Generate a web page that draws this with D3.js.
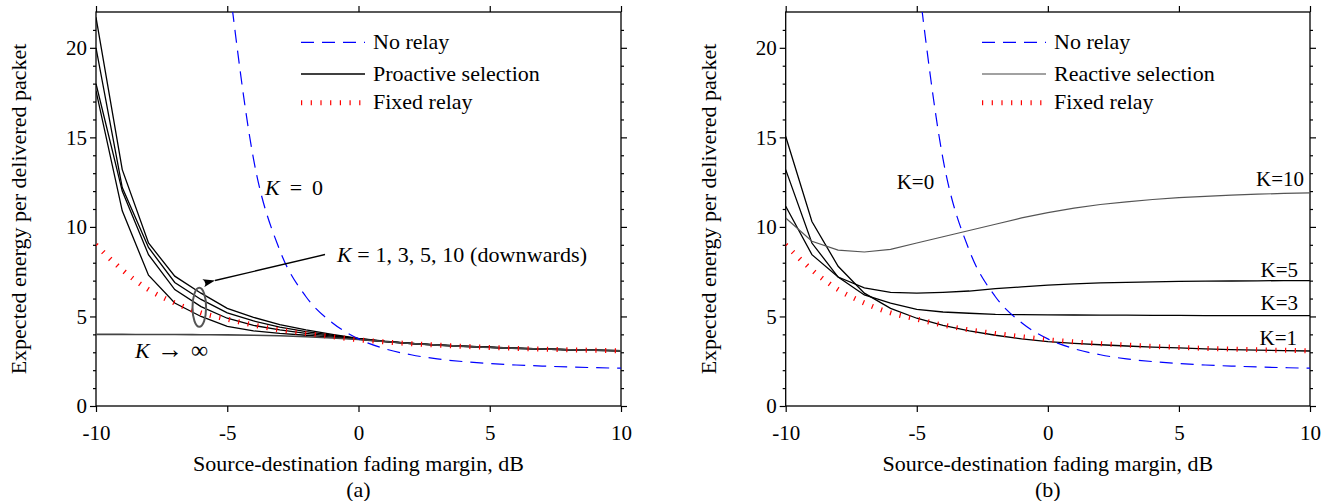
<!DOCTYPE html>
<html><head><meta charset="utf-8">
<script src="https://cdn.jsdelivr.net/npm/d3@7"></script>
<style>body{margin:0;background:#fff}svg{display:block}</style>
</head><body>
<svg id="chart" width="1332" height="501"></svg>
<script>
// ---------- data ----------
const fadeMargin = [-10,-9,-8,-7,-6,-5,-4,-3,-2,-1,0,1,2,3,4,5,6,7,8,9,10];
const noRelayMargin = [-5,-4,-3,-2,-1,0,1,2,3,4,5,6,7,8,9,10];
const noRelay = [24.5,13.8,8.7,6.1,4.65,3.75,3.2,2.86,2.63,2.48,2.37,2.29,2.23,2.18,2.14,2.11];
const fixedRelay = [9.0,7.6,6.5,5.75,5.2,4.85,4.52,4.25,4.05,3.87,3.7,3.58,3.48,3.4,3.33,3.27,3.22,3.18,3.14,3.11,3.08];
// (a) proactive selection
const proactiveK1  = [21.7,13.2,9.1,7.25,6.3,5.45,4.95,4.55,4.25,4.0,3.78,3.62,3.5,3.41,3.34,3.28,3.23,3.19,3.15,3.12,3.09];
const proactiveK3  = [20.0,12.2,8.85,6.9,5.95,5.2,4.75,4.4,4.15,3.95,3.76,3.61,3.5,3.41,3.34,3.28,3.23,3.19,3.15,3.12,3.09];
const proactiveK5  = [18.0,12.0,8.45,6.5,5.55,4.9,4.5,4.25,4.05,3.9,3.74,3.6,3.49,3.4,3.33,3.27,3.22,3.18,3.14,3.11,3.08];
const proactiveK10 = [17.6,10.9,7.3,5.75,5.0,4.45,4.2,4.05,3.95,3.85,3.72,3.6,3.49,3.4,3.33,3.27,3.22,3.18,3.14,3.11,3.08];
const proactiveKinf = [4.0,4.0,3.99,3.99,3.98,3.97,3.95,3.92,3.87,3.8,3.71,3.6,3.49,3.4,3.33,3.27,3.22,3.18,3.14,3.11,3.08];
// (b) reactive selection
const reactiveK1  = [15.05,10.3,7.8,6.3,5.45,4.9,4.5,4.2,3.95,3.75,3.6,3.5,3.42,3.35,3.29,3.24,3.19,3.15,3.12,3.09,3.07];
const reactiveK3  = [13.2,9.1,7.2,6.2,5.75,5.4,5.25,5.18,5.12,5.1,5.09,5.08,5.07,5.07,5.06,5.06,5.05,5.05,5.05,5.05,5.05];
const reactiveK5  = [11.15,8.45,7.2,6.6,6.35,6.3,6.35,6.42,6.55,6.65,6.75,6.82,6.87,6.9,6.93,6.96,6.97,6.98,6.99,7.0,7.0];
const reactiveK10 = [10.5,9.2,8.7,8.6,8.75,9.1,9.45,9.8,10.15,10.5,10.8,11.05,11.25,11.4,11.53,11.63,11.71,11.78,11.83,11.87,11.9];
// ticks / labels
const xTicks = [-10,-5,0,5,10];
const yMajorTicks = [0,5,10,15,20];
const yMinorTicks = [1,2,3,4,6,7,8,9,11,12,13,14,16,17,18,19,21];
const yLabel = "Expected energy per delivered packet";
const xLabel = "Source-destination fading margin, dB";

// ---------- drawing ----------
const FONT = "'Liberation Serif','Times New Roman',serif";
const svg = d3.select("#chart");
svg.append("rect").attr("width",1332).attr("height",501).attr("fill","#fff");
const defs = svg.append("defs");
defs.append("marker").attr("id","arrowhead").attr("viewBox","0 0 12 8")
  .attr("refX",0).attr("refY",4).attr("markerWidth",12).attr("markerHeight",8)
  .attr("markerUnits","userSpaceOnUse").attr("orient","auto-start-reverse")
  .append("path").attr("d","M0,4 L12,0 Q8,4 12,8 Z").attr("fill","#000");

const TOP = 12, BOTTOM = 406;

function panel(id, x0, x1, tag) {
  const x = d3.scaleLinear().domain([-10,10]).range([x0,x1]);
  const y = d3.scaleLinear().domain([0,22]).range([BOTTOM,TOP]);
  const g = svg.append("g");
  defs.append("clipPath").attr("id","clip"+id).append("rect")
    .attr("x",x0).attr("y",TOP).attr("width",x1-x0).attr("height",BOTTOM-TOP);

  const styleAxis = a => {
    a.select(".domain").remove();
    a.selectAll(".tick line").attr("stroke","#000").attr("stroke-width",1.2);
    a.selectAll(".tick text").attr("font-family",FONT).attr("font-size",21).attr("fill","#000");
  };
  g.append("g").attr("transform",`translate(0,${BOTTOM})`)
    .call(d3.axisBottom(x).tickValues(xTicks).tickSize(6).tickPadding(13).tickFormat(d=>String(d))).call(styleAxis);
  g.append("g").attr("transform",`translate(0,${TOP})`)
    .call(d3.axisTop(x).tickValues(xTicks).tickSize(6).tickFormat("")).call(styleAxis);
  g.append("g").attr("transform",`translate(${x0},0)`)
    .call(d3.axisLeft(y).tickValues(yMajorTicks).tickSize(6).tickPadding(3).tickFormat(d=>String(d))).call(styleAxis);
  g.append("g").attr("transform",`translate(${x0},0)`)
    .call(d3.axisLeft(y).tickValues(yMinorTicks).tickSize(3).tickFormat("")).call(styleAxis);
  g.append("g").attr("transform",`translate(${x1},0)`)
    .call(d3.axisRight(y).tickValues(yMajorTicks).tickSize(6).tickFormat("")).call(styleAxis);
  g.append("g").attr("transform",`translate(${x1},0)`)
    .call(d3.axisRight(y).tickValues(yMinorTicks).tickSize(3).tickFormat("")).call(styleAxis);

  g.append("rect").attr("x",x0).attr("y",TOP).attr("width",x1-x0).attr("height",BOTTOM-TOP)
    .attr("fill","none").attr("stroke","#000").attr("stroke-width",1.3);

  // labels
  const cx = (x0+x1)/2;
  g.append("text").attr("x",cx).attr("y",471).attr("text-anchor","middle")
    .attr("font-family",FONT).attr("font-size",22).text(xLabel);
  g.append("text").attr("x",cx).attr("y",497).attr("text-anchor","middle")
    .attr("font-family",FONT).attr("font-size",22).text(tag);
  g.append("text").attr("transform",`translate(${x0-70},209) rotate(-90)`).attr("text-anchor","middle")
    .attr("font-family",FONT).attr("font-size",22).text(yLabel);

  const plot = g.append("g").attr("clip-path",`url(#clip${id})`);
  return {x,y,g,plot};
}

function drawLine(p, xs, ys, style, curve) {
  const line = d3.line().x((d,i)=>p.x(xs[i])).y(d=>p.y(d)).curve(curve || d3.curveLinear);
  const path = p.plot.append("path").datum(ys).attr("d",line).attr("fill","none");
  Object.entries(style).forEach(([k,v])=>path.attr(k,v));
  return path;
}
const blackStyle = {stroke:"#000","stroke-width":1.3};
const grayStyle = {stroke:"#555","stroke-width":1.2};
const blueStyle = {stroke:"#0000ff","stroke-width":1.2,"stroke-dasharray":"13,8"};
const redStyle = {stroke:"#ff0000","stroke-width":5,"stroke-dasharray":"1.2,8.5"};

function legend(g, lx0, lx1, tx, label2, style2) {
  const rows = [
    {label:"No relay", style:blueStyle, yl:42.3, yt:48.5},
    {label:label2, style:style2, yl:74, yt:81},
    {label:"Fixed relay", style:redStyle, yl:102.7, yt:109.3}
  ];
  rows.forEach(r=>{
    const l = g.append("line").attr("x1",lx0).attr("x2",lx1).attr("y1",r.yl).attr("y2",r.yl);
    Object.entries(r.style).forEach(([k,v])=>l.attr(k,v));
    g.append("text").attr("x",tx).attr("y",r.yt).attr("font-family",FONT).attr("font-size",22).text(r.label);
  });
}

// ----- panel (a)
const A = panel("a", 96, 621, "(a)");
[proactiveK1, proactiveK3, proactiveK5, proactiveK10].forEach(s=>drawLine(A, fadeMargin, s, blackStyle));
drawLine(A, fadeMargin, proactiveKinf, {stroke:"#444","stroke-width":1.6}, d3.curveMonotoneX);
drawLine(A, noRelayMargin, noRelay, blueStyle, d3.curveMonotoneX);
drawLine(A, fadeMargin, fixedRelay, redStyle, d3.curveMonotoneX);
legend(A.g, 301, 365, 373, "Proactive selection", {stroke:"#000","stroke-width":1.3});

function mathText(g, xPos, yPos, len, parts) {
  const t = g.append("text").attr("x",xPos).attr("y",yPos).attr("font-family",FONT).attr("font-size",22)
    .attr("textLength",len).attr("lengthAdjust","spacing");
  parts.forEach(p=>{
    const s = t.append("tspan").attr("font-style",p.i?"italic":"normal").text(p.t);
    if (p.fs) s.attr("font-size",p.fs);
    if (p.fw) s.attr("font-weight",p.fw);
  });
  return t;
}
mathText(A.g, 265, 195, 58, [{t:"K",i:true},{t:" = 0"}]);
mathText(A.g, 135, 358, 73, [{t:"K",i:true},{t:" \u2192 ",fs:26},{t:"\u221E",fs:24,fw:300}]);
mathText(A.g, 337, 262, 250, [{t:"K",i:true},{t:" = 1, 3, 5, 10 (downwards)"}]);
A.g.append("line").attr("x1",325).attr("y1",254.5).attr("x2",215).attr("y2",280.5)
  .attr("stroke","#000").attr("stroke-width",1.3).attr("marker-end","url(#arrowhead)");
A.g.append("ellipse").attr("cx",A.x(-6)-1.7).attr("cy",307.3).attr("rx",6.8).attr("ry",19.5)
  .attr("fill","none").attr("stroke","#555").attr("stroke-width",2);

// ----- panel (b)
const B = panel("b", 785.7, 1310, "(b)");
[reactiveK1, reactiveK3, reactiveK5].forEach(s=>drawLine(B, fadeMargin, s, blackStyle));
drawLine(B, fadeMargin, reactiveK10, grayStyle);
drawLine(B, noRelayMargin, noRelay, blueStyle, d3.curveMonotoneX);
drawLine(B, fadeMargin, fixedRelay, redStyle, d3.curveMonotoneX);
legend(B.g, 982, 1046, 1054, "Reactive selection", {stroke:"#444","stroke-width":1.1});
const kLabels = [{t:"K=10",x:1304,y:186},{t:"K=5",x:1298,y:276.7},{t:"K=3",x:1298,y:310},{t:"K=1",x:1297,y:345}];
kLabels.forEach(k=>B.g.append("text").attr("x",k.x).attr("y",k.y).attr("text-anchor","end")
  .attr("font-family",FONT).attr("font-size",21).text(k.t));
B.g.append("text").attr("x",896.7).attr("y",189.3).attr("font-family",FONT).attr("font-size",21).text("K=0");
</script>
</body></html>
